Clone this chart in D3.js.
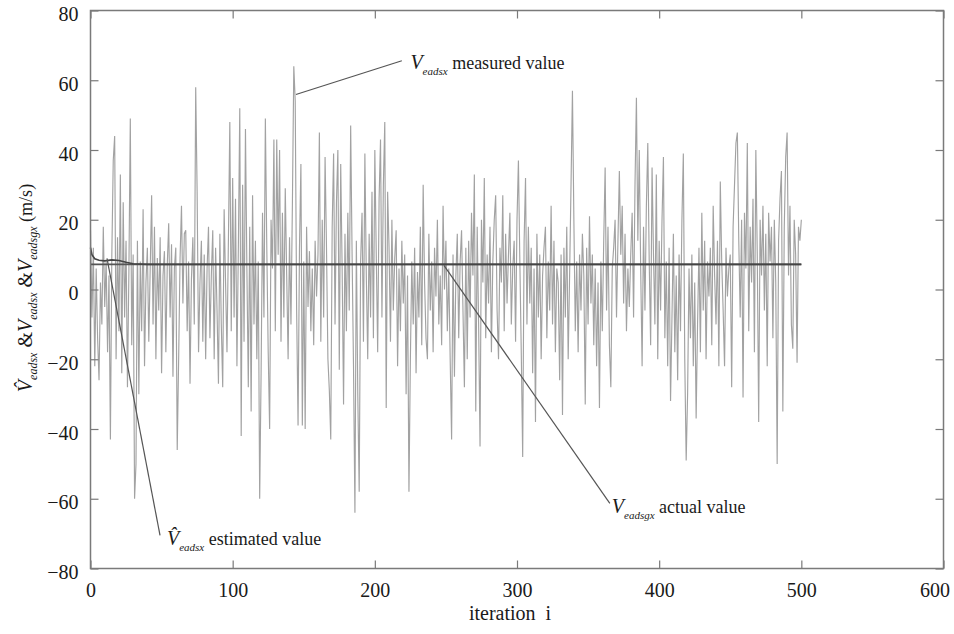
<!DOCTYPE html>
<html>
<head>
<meta charset="utf-8">
<script src="https://cdn.jsdelivr.net/npm/d3@7"></script>
<style>
  body { margin: 0; background: #fff; }
  svg { display: block; }
  .tick text { font-family: "Liberation Serif", "Times New Roman", serif; font-size: 20px; fill: #1a1a1a; }
</style>
</head>
<body>
<div id="chart"></div>
<script>
// measured V_eadsx, one value per iteration (0..500)
var measured = [
  17, -8, 12, -22, 6, -14, -26, 2, -10, 18, -5, 8, -18, 4, -43, 10, 37, 44, -20, 15,
  -12, 33, -24, 25, -8, 14, -28, 5, 49, -16, 10, -60, -50, 14, -30, 8, -12, 23, -22, 2,
  12, -15, 6, 27, -10, 18, -20, 9, -6, 15, -24, 4, 11, -18, 7, 19, -8, 13, -25, 6,
  12, -46, -20, 9, 24, -4, 16, 17, -12, 8, -27, 3, 15, -10, 58, 28, -18, 2, 14, -15,
  10, -20, 6, 18, -14, 4, 17, -20, 12, -6, -27, 16, -10, -28, 23, 2, -18, 14, 48, -12,
  32, -8, 26, -22, 12, 52, -42, 30, -15, 46, 6, -28, 18, -35, 27, -10, 14, -20, 8, -60,
  -24, 22, -8, 49, 12, -18, -40, 20, 6, 43, -12, 43, 10, 40, -15, 22, -8, 29, 4, -20,
  15, -10, 24, 64, 54, -6, -39, 12, 36, -39, 8, -40, 18, -5, 11, -12, 6, -16, 14, -2,
  10, 45, -15, 20, -8, 38, 12, -20, -29, -43, 18, 39, -10, 25, 40, -23, 36, 6, -33, 16,
  -12, 22, -6, 47, 10, -22, -64, 14, -30, -58, 8, 22, -15, 39, 4, -20, 16, -8, 28, -14,
  40, 10, -18, 26, 43, -8, 30, 48, -34, 28, 12, -15, 20, -6, 9, 17, -22, 6, -12, 14,
  -4, 10, -30, 4, -58, -20, 8, -10, 12, -24, 5, -8, 18, -16, 30, 2, -14, -20, 16, -6,
  8, -18, 12, -2, 20, -10, 4, -16, 24, 0, 14, -12, 6, -20, -43, 10, -25, 4, 16, -14,
  8, 17, -6, -28, 12, -20, 14, -8, 22, 4, 33, -35, 18, -10, -45, 20, 2, 32, -14, 10,
  -4, 18, -18, 8, 20, 27, -6, -20, 12, 2, 27, -12, 16, -4, 10, 22, -10, 6, 14, -15,
  20, 37, 8, -18, -48, 14, 32, -10, 18, -4, 12, -24, 6, -38, 16, -8, 10, -20, 4, 12,
  18, -14, 8, -6, 24, -10, 14, -18, 6, 2, -26, 10, -36, 12, -8, 18, -20, 4, 30, 57,
  20, -12, 8, -18, 10, -6, 16, 4, -33, 12, -10, 21, -4, 10, -16, 6, -22, 2, -34, 8,
  -12, 14, 35, -6, 18, -16, -28, 6, 12, 20, -8, 14, 34, 10, 24, -4, 16, -12, 6, -5,
  10, 22, -8, 30, 55, 14, 40, 6, -22, 18, -6, 24, 42, 8, -16, 35, 10, -10, 33, -20,
  14, -6, 20, 38, -14, 8, -22, 12, -32, -8, 16, -18, 4, -26, 10, -12, 20, 39, -20, -49,
  -30, 6, -14, 10, -22, 2, -37, -10, 12, -18, 22, -6, 14, -20, 8, -2, 12, -16, 24, 4,
  -10, 14, -22, 31, 8, -6, -22, 12, -2, 6, 10, -28, 18, 30, 42, 45, 14, -8, 20, -31,
  22, 6, 42, -12, 18, 2, 26, -18, 40, 10, -38, 20, 4, 24, -6, 16, -22, 22, 8, 18,
  -14, 20, 2, -50, 14, 26, 34, -35, 18, 38, 45, 4, 24, -10, -17, 20, 10, -21, 18, 14, 20
];

// estimated V̂_eadsx (iteration, value)
var estIter = [0, 1, 3, 6, 10, 15, 20, 25, 30, 40, 500];
var estValue = [12, 10, 8.8, 8.4, 8.2, 8.5, 8.3, 7.8, 7.4, 7.2, 7.2];

// actual V_eadsgx (iteration, value)
var actIter = [0, 500];
var actValue = [7.2, 7.2];

var xTicks = [0, 100, 200, 300, 400, 500, 600];
var yTicks = [-80, -60, -40, -20, 0, 20, 40, 60, 80];

// callouts in data units: leader from (x1,y1) to (x2,y2), label at (tx,ty)
var notes = [
  {x1: 144.5, y1: 55.9, x2: 219, y2: 65.6, tx: 225, ty: 63.3, hat: false, sub: 'eadsx', txt: 'measured value'},
  {x1: 11.6, y1: 8.9, x2: 48.9, y2: -70.5, tx: 53.8, ty: -73.2, hat: true, sub: 'eadsx', txt: 'estimated value'},
  {x1: 248.6, y1: 6.9, x2: 365.3, y2: -61.3, tx: 366.7, ty: -64.2, hat: false, sub: 'eadsgx', txt: 'actual value'}
];

var W = 954, H = 634;
var plotL = 90.5, plotR = 943.5, plotT = 10.5, plotB = 568.5;
var serif = '"Liberation Serif", "Times New Roman", serif';

var svg = d3.select('#chart').append('svg')
    .attr('width', W)
    .attr('height', H);

var x = d3.scaleLinear().domain([0, 600]).range([plotL, plotR]);
var y = d3.scaleLinear().domain([-80, 80]).range([plotB, plotT]);

//measured series - thin light grey
var line = d3.line()
    .x(function(d, i) { return x(i); })
    .y(function(d) { return y(d); });

svg.append('path')
    .datum(measured)
    .attr('fill', 'none')
    .attr('stroke', '#a2a2a2')
    .attr('stroke-width', 1.15)
    .attr('d', line);

//actual and estimated - dark
var line2 = d3.line()
    .x(function(d) { return x(d[0]); })
    .y(function(d) { return y(d[1]); });

svg.append('path')
    .datum(d3.zip(actIter, actValue))
    .attr('fill', 'none')
    .attr('stroke', '#555')
    .attr('stroke-width', 1.8)
    .attr('d', line2);

svg.append('path')
    .datum(d3.zip(estIter, estValue))
    .attr('fill', 'none')
    .attr('stroke', '#444')
    .attr('stroke-width', 1.6)
    .attr('d', line2);

//axes with inward ticks
var axisColor = '#7a7a7a';
function styleAxis(g) {
    g.select('.domain').remove();
    g.selectAll('.tick line').attr('stroke', axisColor).attr('stroke-width', 1.2);
}

var xAxis = svg.append('g')
    .attr('transform', 'translate(0,' + plotB + ')')
    .call(d3.axisBottom(x).tickValues(xTicks).tickSize(-8).tickPadding(14).tickFormat(d3.format('d')))
    .call(styleAxis);
// last label sits a bit left so it stays inside the picture
xAxis.selectAll('.tick text').filter(function(d) { return d === 600; }).attr('dx', -9);

svg.append('g')
    .attr('transform', 'translate(0,' + plotT + ')')
    .call(d3.axisTop(x).tickValues(xTicks).tickSize(-8).tickFormat(''))
    .call(styleAxis);

var yAxis = svg.append('g')
    .attr('transform', 'translate(' + plotL + ',0)')
    .call(d3.axisLeft(y).tickValues(yTicks).tickSize(-8).tickPadding(12).tickFormat(d3.format('d')))
    .call(styleAxis);
yAxis.selectAll('.tick text').attr('dy', '0.5em');

svg.append('g')
    .attr('transform', 'translate(' + plotR + ',0)')
    .call(d3.axisRight(y).tickValues(yTicks).tickSize(-8).tickFormat(''))
    .call(styleAxis);

svg.selectAll('.tick text').attr('font-family', null).attr('font-size', null);

svg.append('rect')
    .attr('x', plotL).attr('y', plotT)
    .attr('width', plotR - plotL).attr('height', plotB - plotT)
    .attr('fill', 'none')
    .attr('stroke', axisColor)
    .attr('stroke-width', 1.5);

//x title
svg.append('text')
    .attr('x', 510).attr('y', 620)
    .attr('text-anchor', 'middle')
    .attr('font-family', serif)
    .attr('font-size', 20)
    .attr('fill', '#1a1a1a')
    .attr('xml:space', 'preserve')
    .text('iteration  i');

//y title with subscripts
var yt = svg.append('text')
    .attr('transform', 'translate(32,288) rotate(-90)')
    .attr('text-anchor', 'middle')
    .attr('font-family', serif)
    .attr('font-size', 20)
    .attr('fill', '#1a1a1a');
yt.append('tspan').attr('font-style', 'italic').text('V\u0302');
yt.append('tspan').attr('font-style', 'italic').attr('font-size', 12).attr('dy', 5).text('eadsx');
yt.append('tspan').attr('dy', -5).text(' &');
yt.append('tspan').attr('font-style', 'italic').text('V');
yt.append('tspan').attr('font-style', 'italic').attr('font-size', 12).attr('dy', 5).text('eadsx');
yt.append('tspan').attr('dy', -5).text(' &');
yt.append('tspan').attr('font-style', 'italic').text('V');
yt.append('tspan').attr('font-style', 'italic').attr('font-size', 12).attr('dy', 5).text('eadsgx');
yt.append('tspan').attr('dy', -5).attr('font-size', 18).text(' (m/s)');

//callouts
notes.forEach(function(n) {
    svg.append('line')
        .attr('x1', x(n.x1)).attr('y1', y(n.y1))
        .attr('x2', x(n.x2)).attr('y2', y(n.y2))
        .attr('stroke', '#555')
        .attr('stroke-width', 1.2);
    var t = svg.append('text')
        .attr('x', x(n.tx)).attr('y', y(n.ty))
        .attr('font-family', serif)
        .attr('font-size', 18)
        .attr('fill', '#1a1a1a');
    t.append('tspan').attr('font-style', 'italic').attr('font-size', 20).text(n.hat ? 'V\u0302' : 'V');
    t.append('tspan').attr('font-style', 'italic').attr('font-size', 11).attr('dy', 6).text(n.sub);
    t.append('tspan').attr('dy', -6).text(' ' + n.txt);
});
</script>
</body>
</html>
